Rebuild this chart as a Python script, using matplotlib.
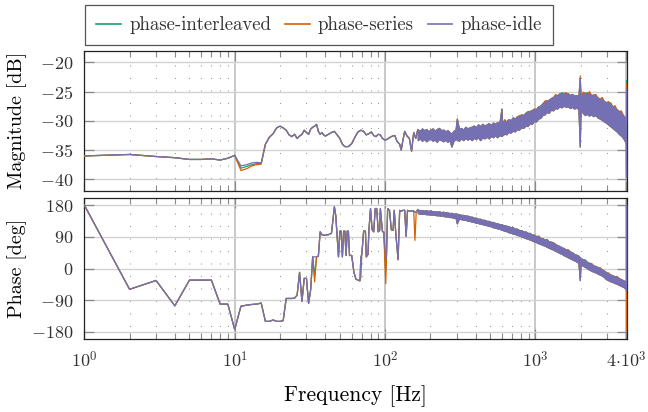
import matplotlib
matplotlib.use('Agg')

import matplotlib.pyplot as plt
from matplotlib.lines import Line2D
from matplotlib.ticker import FixedLocator, NullFormatter

plt.rcParams.update({
  'font.family'             : 'serif',
  'font.serif'              : ['cmr10', 'DejaVu Serif'],
  'mathtext.fontset'        : 'cm',
  'axes.formatter.use_mathtext' : True,
  'text.color'              : '#333333',
})

SERIES = ['phase-interleaved', 'phase-series', 'phase-idle']
COLMAP = {
  'phase-interleaved' : '#1b9e77',
  'phase-series'      : '#d95f02',
  'phase-idle'        : '#7570b3',
}

# --- magnitude, low frequency part (Hz / dB) ---
freq_mag_low = [
  1, 2, 3, 4, 5, 6, 7, 8, 9, 10, 11, 12, 13, 14, 15, 16, 17, 18, 19, 20,
  21, 22, 23, 24, 25, 26, 27, 28, 29, 30, 31, 32, 33, 34, 35, 36, 37, 38, 39, 40,
  42, 44, 46, 48, 50, 52, 54, 57, 60, 63, 66, 69, 72, 75, 78, 81, 84, 87, 90, 93,
  96, 100, 104, 108, 112, 116, 120, 125, 128, 131, 135, 140, 145, 150, 155, 160,
]
mag_low_idle = [
  -36.0, -35.75, -36.1, -36.3, -36.6, -36.6, -36.5, -36.7, -36.4, -35.9,
  -37.7, -37.5, -37.2, -37.1, -37.2, -34.0, -32.8, -32.2, -31.2, -30.9,
  -31.2, -31.6, -32.4, -32.7, -32.3, -33.0, -32.6, -32.3, -31.6, -32.0,
  -32.3, -31.4, -31.1, -30.9, -30.6, -31.8, -32.3, -32.0, -32.4, -32.6,
  -32.3, -32.0, -31.8, -32.4, -33.0, -34.0, -34.4, -34.4, -33.9, -32.8,
  -31.9, -31.6, -31.8, -32.4, -32.2, -31.9, -32.5, -32.7, -32.3, -32.4,
  -33.0, -33.3, -33.1, -32.8, -32.6, -32.5, -33.5, -34.0, -35.0, -33.5,
  -31.8, -32.6, -33.0, -35.2, -32.0, -33.0,
]

# --- phase, low frequency part (Hz / deg) ---
freq_phase_low = [
  1, 2, 3, 4, 5, 6, 7, 8, 9, 10, 11, 12, 13, 14, 15, 16, 17, 18, 19, 20,
  21, 22, 23, 24, 25, 26, 27, 28, 29, 30, 31, 32, 33, 34, 35, 36, 37, 38, 39, 40,
  42, 44, 46, 47, 49, 50, 51, 52, 53, 54, 55, 56, 57, 58, 60, 62, 64, 66, 68, 69,
  70, 72, 74, 75, 77, 78, 80, 82, 84, 86, 88, 90, 92, 93, 96, 98, 101, 102, 104, 107,
  110, 113, 115, 118, 122, 125, 128, 131, 135, 138, 141, 145, 150, 155, 158, 161,
]
phase_low_idle = [
  180, -59, -34, -106, -33, -33, -33, -101, -101, -173,
  -107, -104, -102, -101, -98, -150, -150, -146, -150, -150,
  -148, -85, -85, -85, -84, -76, -11, -93, -28, -28,
  -99, -60, 33, 33, 33, 35, 104, 96, 94, 95,
  96, 100, 175, 150, 33, 106, 106, 33, 106, 106,
  37, 106, 106, 37, 37, -10, -30, -33, -35, 33,
  40, 106, 106, 33, 40, 106, 170, 110, 104, 170,
  170, 104, 108, 170, 105, 103, 33, 30, 170, 165,
  110, 108, 165, 96, 25, 165, 162, 165, 165, 91,
  165, 163, 163, 163, 160, 160,
]

# --- above ~165 Hz the traces are a dense noisy band: upper / lower edge per frequency ---
freq_band = [
  165, 170, 176, 182, 188, 194, 200, 207, 214, 221, 228, 236, 244, 252, 260, 268,
  276, 285, 294, 300, 310, 320, 331, 342, 353, 365, 377, 389, 402, 415, 429, 443,
  458, 473, 489, 505, 522, 539, 557, 575, 594, 600, 620, 640, 661, 683, 706, 729,
  753, 778, 804, 830, 858, 886, 915, 945, 976, 1008, 1042, 1076, 1112, 1148, 1186, 1225,
  1266, 1308, 1351, 1395, 1441, 1489, 1538, 1589, 1641, 1695, 1751, 1809, 1869, 1930, 1970, 1994,
  2060, 2128, 2198, 2270, 2345, 2423, 2503, 2585, 2670, 2758, 2849, 2943, 3040, 3141, 3244, 3351,
  3462, 3576, 3694, 3816, 3900, 3960, 3990, 3999, 4000,
]
mag_band_hi = [
  -31.5, -31.7, -31.3, -31.6, -31.4, -31.8, -31.5, -31.3, -31.7, -31.4, -31.2, -31.6, -31.5, -31.8, -31.6, -31.9,
  -32.2, -31.7, -31.5, -29.6, -31.4, -31.2, -31.5, -31.0, -31.3, -31.1, -31.0, -30.8, -31.1, -30.6, -30.9, -30.5,
  -30.8, -30.6, -30.4, -30.7, -30.3, -30.5, -30.2, -30.4, -27.9, -30.3, -30.0, -30.1, -29.7, -29.9, -29.4, -29.6,
  -29.2, -29.3, -28.9, -29.0, -28.6, -28.7, -28.3, -28.4, -27.9, -28.0, -27.5, -27.4, -27.0, -26.8, -26.5, -26.4,
  -26.1, -25.9, -25.7, -25.6, -25.3, -25.5, -25.2, -25.4, -25.3, -25.6, -25.4, -25.7, -25.6, -25.8, -22.6, -25.9,
  -25.4, -25.2, -25.5, -25.3, -25.6, -25.5, -25.8, -26.0, -26.2, -26.3, -26.6, -26.8, -27.0, -27.2, -27.5, -27.7,
  -28.0, -28.3, -28.6, -29.0, -29.3, -29.6, -29.8, -30.0, -24.5,
]
mag_band_lo = [
  -33.3, -33.0, -33.4, -33.1, -33.5, -33.2, -33.0, -33.4, -33.2, -33.6, -33.1, -33.3, -33.5, -33.2, -33.6, -33.3,
  -34.4, -33.4, -33.1, -33.2, -33.4, -33.0, -33.3, -32.9, -33.2, -33.0, -33.3, -32.9, -33.1, -32.8, -33.3, -32.8,
  -33.0, -32.7, -33.0, -32.6, -32.8, -32.5, -32.8, -32.4, -32.6, -32.5, -32.2, -32.3, -31.9, -32.0, -31.7, -31.8,
  -31.4, -31.5, -31.1, -31.2, -30.8, -30.9, -30.4, -30.5, -30.0, -30.1, -29.6, -29.5, -29.0, -28.9, -28.5, -28.6,
  -28.1, -28.2, -27.8, -27.9, -27.5, -27.7, -27.4, -27.6, -27.5, -27.8, -27.6, -27.9, -27.7, -28.0, -34.4, -28.2,
  -28.6, -29.0, -28.8, -29.1, -28.9, -29.2, -29.0, -29.4, -29.6, -29.8, -30.1, -30.3, -30.6, -30.9, -31.2, -31.5,
  -31.8, -32.2, -32.5, -32.9, -33.3, -33.6, -33.8, -39.6, -39.6,
]
phase_band_hi = [
  167, 165, 166, 164, 165, 163, 165, 162, 163, 161, 162, 160, 161, 159, 159, 157,
  158, 155, 156, 155, 154, 152, 152, 150, 150, 147, 147, 144, 144, 141, 141, 138,
  138, 135, 135, 132, 132, 129, 128, 126, 126, 124, 123, 121, 120, 117, 117, 113,
  113, 109, 109, 105, 105, 101, 101, 96, 96, 92, 91, 87, 86, 82, 81, 77,
  76, 72, 70, 66, 64, 60, 58, 54, 52, 48, 46, 41, 39, 34, 32, 30,
  26, 23, 19, 16, 13, 9, 7, 4, 1, -2, -6, -12, -14, -17, -19, -22,
  -24, -27, -30, -33, -35, -37, -39, -40, 180,
]
phase_band_lo = [
  157, 156, 155, 155, 154, 154, 153, 153, 152, 151, 151, 150, 149, 148, 148, 146,
  146, 144, 144, 128, 142, 140, 139, 138, 136, 135, 133, 132, 130, 129, 127, 126,
  124, 123, 121, 120, 117, 116, 114, 113, 110, 110, 107, 106, 103, 102, 99, 98,
  95, 94, 91, 89, 86, 85, 82, 80, 77, 75, 72, 70, 67, 65, 62, 59,
  56, 54, 50, 48, 44, 42, 38, 35, 32, 29, 26, 23, 20, 16, -33, 12,
  8, 5, 1, -3, -6, -9, -11, -14, -17, -20, -24, -30, -33, -36, -38, -41,
  -43, -46, -49, -52, -54, -57, -58, -62, -62,
]

# where the other two measurements visibly leave the idle curve
mag_series_diff         = {11: -38.5, 12: -38.2, 13: -37.7, 14: -37.5, 15: -37.4}
mag_interleaved_diff    = {11: -38.1, 12: -37.8, 13: -37.5, 14: -37.3, 15: -37.3}
mag_series_hi_diff      = {620: -29.7, 778: -29.0, 945: -28.1, 1148: -26.5, 1351: -25.4, 1589: -25.1,
                           1970: -22.2, 2060: -25.0, 2270: -24.9, 2503: -25.4, 2758: -25.9, 3040: -26.6,
                           3351: -27.3, 3694: -28.2, 4000: -23.5}
mag_interleaved_hi_diff = {886: -28.3, 1489: -25.1, 2198: -25.1, 3141: -26.8, 4000: -23.0}
phase_series_diff       = {34: -38, 69: -25, 101: -43, 158: 80}
phase_interleaved_diff  = {34: -20, 101: -10}
phase_series_hi_diff    = {1042: 94, 1308: 75, 1641: 55, 1930: 37, 2345: 16, 2670: 4, 3040: -11, 3462: -21}
phase_series_lo_diff    = {4000: -175}
phase_interleaved_hi_diff = {1186: 84, 2128: 26, 2943: -9}


def build(freqs, values, diff):
  return [diff.get(f, v) for f, v in zip(freqs, values)]


def style_axis(ax, yticks, ylim):
  ax.set_xscale('log')
  # a hair past 4 kHz so the last sample sits just inside the frame
  ax.set_xlim(1, 4060)
  ax.set_ylim(*ylim)
  ax.xaxis.set_major_locator(FixedLocator([1, 10, 100, 1000, 4000]))
  minors = [m * 10 ** d for d in range(0, 4) for m in range(2, 10) if m * 10 ** d < 4000]
  ax.xaxis.set_minor_locator(FixedLocator(minors))
  ax.xaxis.set_minor_formatter(NullFormatter())
  ax.set_yticks(yticks)
  ax.set_yticklabels([r'$%d$' % t for t in yticks])
  ax.tick_params(which = 'both', direction = 'in', top = True, right = True, colors = '#8a8a8a',
                 labelcolor = '#333333', labelsize = 13)
  ax.tick_params(which = 'major', length = 7, width = 0.9, pad = 8)
  ax.tick_params(which = 'minor', length = 4.5, width = 0.8)
  ax.grid(True, which = 'major', axis = 'y', color = '#d2d2d2', lw = 1.0)
  ax.grid(True, which = 'major', axis = 'x', color = '#c4c4c4', lw = 1.3)
  ax.grid(True, which = 'minor', axis = 'x', color = '#9a9a9a', lw = 0.75, ls = (0, (1, 11)))
  ax.set_axisbelow(True)
  for sp in ax.spines.values():
    sp.set_color('#222222')
    sp.set_linewidth(0.9)


def draw(ax, f_low, v_low, hi, lo, color):
  # sparse part as a line, joined to the start of the dense band
  ax.plot(f_low + freq_band[:1], v_low + hi[:1], color = color, lw = 0.9, zorder = 3)
  ax.fill_between(freq_band, lo, hi, facecolor = color, edgecolor = color, lw = 0.8, zorder = 3)


fig = plt.figure(figsize = (6.48, 4.12), dpi = 100)
ax_mag = fig.add_axes([0.1301, 0.5364, 0.8375, 0.3405])
ax_ph  = fig.add_axes([0.1301, 0.1772, 0.8375, 0.3422], sharex = ax_mag)

mag_low = {
  'phase-interleaved' : build(freq_mag_low, mag_low_idle, mag_interleaved_diff),
  'phase-series'      : build(freq_mag_low, mag_low_idle, mag_series_diff),
  'phase-idle'        : mag_low_idle,
}
mag_hi = {
  'phase-interleaved' : build(freq_band, mag_band_hi, mag_interleaved_hi_diff),
  'phase-series'      : build(freq_band, mag_band_hi, mag_series_hi_diff),
  'phase-idle'        : mag_band_hi,
}
phase_low = {
  'phase-interleaved' : build(freq_phase_low, phase_low_idle, phase_interleaved_diff),
  'phase-series'      : build(freq_phase_low, phase_low_idle, phase_series_diff),
  'phase-idle'        : phase_low_idle,
}
phase_hi = {
  'phase-interleaved' : build(freq_band, phase_band_hi, phase_interleaved_hi_diff),
  'phase-series'      : build(freq_band, phase_band_hi, phase_series_hi_diff),
  'phase-idle'        : phase_band_hi,
}
phase_lo = {
  'phase-interleaved' : phase_band_lo,
  'phase-series'      : build(freq_band, phase_band_lo, phase_series_lo_diff),
  'phase-idle'        : phase_band_lo,
}

for name in SERIES:
  draw(ax_mag, freq_mag_low, mag_low[name], mag_hi[name], mag_band_lo, COLMAP[name])
  draw(ax_ph, freq_phase_low, phase_low[name], phase_hi[name], phase_lo[name], COLMAP[name])

style_axis(ax_mag, [-40, -35, -30, -25, -20], (-42, -18))
style_axis(ax_ph, [-180, -90, 0, 90, 180], (-200, 200))
plt.setp(ax_mag.get_xticklabels(), visible = False)
ax_ph.set_xticklabels([r'$10^0$', r'$10^1$', r'$10^2$', r'$10^3$', r'$4{\cdot}10^3$'])

ax_mag.set_ylabel('Magnitude [dB]', fontsize = 14.5)
ax_ph.set_ylabel('Phase [deg]', fontsize = 14.5)
ax_mag.yaxis.set_label_coords(-0.106, 0.5)
ax_ph.yaxis.set_label_coords(-0.106, 0.5)
ax_ph.set_xlabel('Frequency [Hz]', fontsize = 15.5)
ax_ph.xaxis.set_label_coords(0.5, -0.326)
ax_ph.xaxis.label.set_va('top')

handles = [Line2D([], [], color = COLMAP[n], lw = 1.2) for n in SERIES]
leg = fig.legend(
  handles, SERIES, loc = 'upper left', bbox_to_anchor = (0.1312, 0.988), ncol = 3,
  fontsize = 13.5, frameon = True, fancybox = False, framealpha = 1, edgecolor = '#555555',
  handlelength = 1.3, handletextpad = 0.45, columnspacing = 0.75, borderpad = 0.6,
  borderaxespad = 0,
)
leg.get_frame().set_linewidth(0.9)

plt.savefig('out.png', dpi = 100)
plt.close()
